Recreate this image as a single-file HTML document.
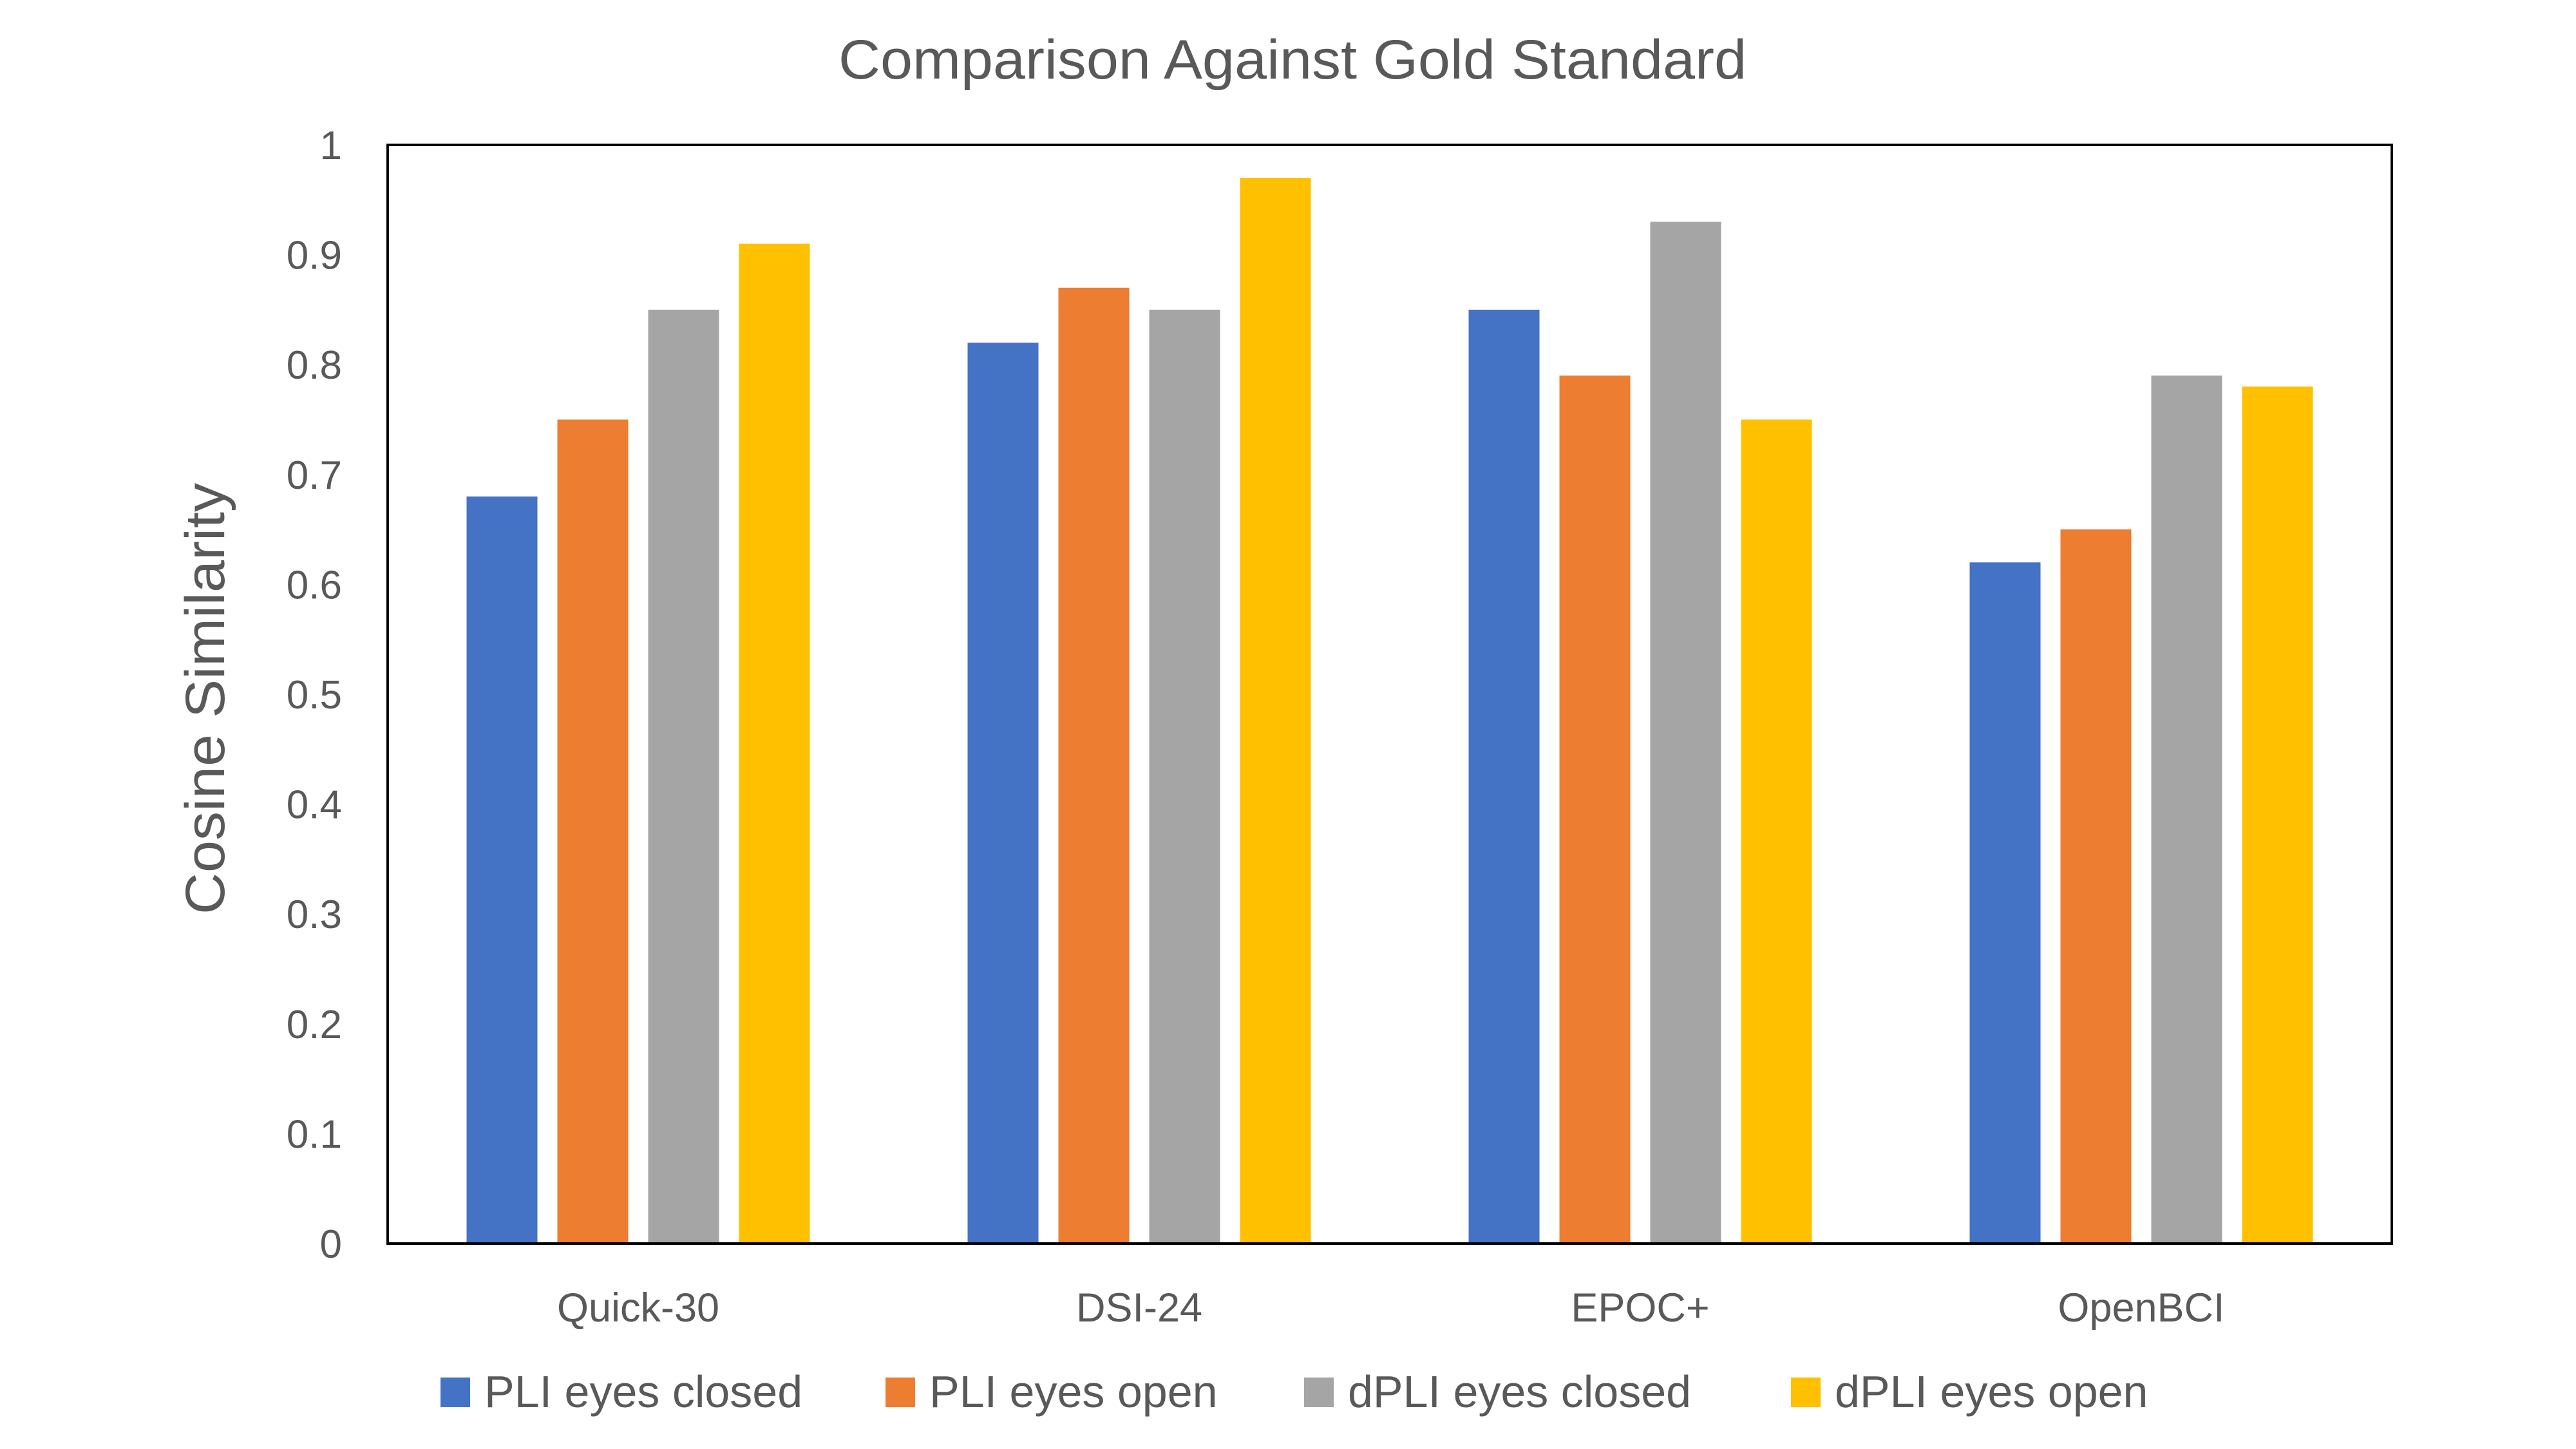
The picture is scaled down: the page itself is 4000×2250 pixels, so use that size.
<!DOCTYPE html>
<html><head><meta charset="utf-8"><style>
html,body{margin:0;padding:0;background:#fff;}
svg{display:block;}
text{font-family:"Liberation Sans",sans-serif;fill:#595959;}
</style></head><body>
<svg id="chart" width="4000" height="2250" viewBox="0 0 4000 2250" xmlns="http://www.w3.org/2000/svg">
<rect width="4000" height="2250" fill="#fff"/>
<text x="2007" y="122" font-size="86" text-anchor="middle" textLength="1410" lengthAdjust="spacingAndGlyphs">Comparison Against Gold Standard</text>
<text transform="translate(348,1085) rotate(-90)" font-size="86" text-anchor="middle" textLength="670" lengthAdjust="spacingAndGlyphs">Cosine Similarity</text>
<g id="bars"></g>
<g id="yticks"></g>
<g id="xlabels"></g>
<rect x="602" y="225" width="3112" height="1706" fill="none" stroke="#000" stroke-width="4"/>
<g id="legend"></g>
</svg>
<script>
const categories = ["Quick-30","DSI-24","EPOC+","OpenBCI"];
const seriesNames = ["PLI eyes closed","PLI eyes open","dPLI eyes closed","dPLI eyes open"];
const pliClosed = [0.68,0.82,0.85,0.62];
const pliOpen = [0.75,0.87,0.79,0.65];
const dpliClosed = [0.85,0.85,0.93,0.79];
const dpliOpen = [0.91,0.97,0.75,0.78];
const yTicks = ["0","0.1","0.2","0.3","0.4","0.5","0.6","0.7","0.8","0.9","1"];

const series = [pliClosed, pliOpen, dpliClosed, dpliOpen];
const colors = ["#4472C4","#ED7D31","#A5A5A5","#FFC000"];
const NS = "http://www.w3.org/2000/svg";
const L=602, R=3714, T=225, B=1931;
function y(v){return B - (v/1)*(B-T);}
const band=(R-L)/categories.length;
function x(i){return L + band*i + band/2;}
const barW=110, step=141;

const bars=document.getElementById('bars');
series.forEach((vals,s)=>{
  vals.forEach((v,i)=>{
    const r=document.createElementNS(NS,'rect');
    const cx=x(i)+(s-1.5)*step;
    r.setAttribute('x',cx-barW/2);
    r.setAttribute('y',y(v));
    r.setAttribute('width',barW);
    r.setAttribute('height',B-y(v));
    r.setAttribute('fill',colors[s]);
    
    
    bars.appendChild(r);
  });
});

const yt=document.getElementById('yticks');
yTicks.forEach(t=>{
  const e=document.createElementNS(NS,'text');
  e.setAttribute('x',531);
  e.setAttribute('y',y(parseFloat(t))+22);
  e.setAttribute('font-size','62');
  e.setAttribute('text-anchor','end');
  e.textContent=t;
  
  
  yt.appendChild(e);
});

const xl=document.getElementById('xlabels');
categories.forEach((c,i)=>{
  const e=document.createElementNS(NS,'text');
  e.setAttribute('x',x(i));
  e.setAttribute('y',2052);
  e.setAttribute('font-size','63');
  e.setAttribute('text-anchor','middle');
  e.textContent=c;
  
  
  xl.appendChild(e);
});

const lg=document.getElementById('legend');
const legX=[684,1375,2025,2781];
seriesNames.forEach((n,s)=>{
  const g=document.createElementNS(NS,'g');
  
  
  const r=document.createElementNS(NS,'rect');
  r.setAttribute('x',legX[s]);r.setAttribute('y',2139);
  r.setAttribute('width',46);r.setAttribute('height',46);
  r.setAttribute('fill',colors[s]);
  
  
  const t=document.createElementNS(NS,'text');
  t.setAttribute('x',legX[s]+68);t.setAttribute('y',2185);
  t.setAttribute('font-size','70');
  t.textContent=n;
  
  
  g.appendChild(r);g.appendChild(t);lg.appendChild(g);
});
</script>
</body></html>
